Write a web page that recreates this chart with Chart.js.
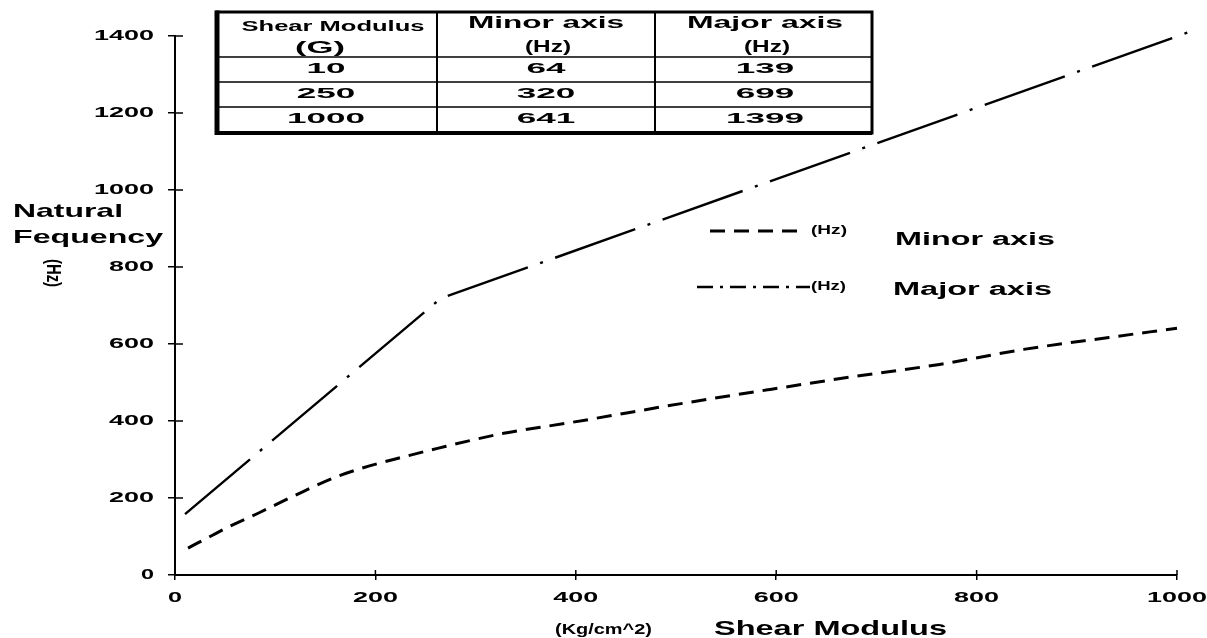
<!DOCTYPE html>
<html><head><meta charset="utf-8">
<script src="https://cdn.jsdelivr.net/npm/chart.js@4"></script>
<style>
html,body{margin:0;padding:0;background:#fff}
#c{display:block}
</style></head>
<body>
<canvas id="c" width="1207" height="638"></canvas>
<script>
// ---- data ----
const minorX  = [13, 35, 55, 85, 120, 162, 195, 230, 262, 328, 395, 507, 594, 679, 763, 847, 932, 1000];
const minorHz = [70, 100, 127, 163, 207, 256, 284, 308, 329, 368, 396, 446, 482, 516, 547, 586, 617, 641];
const majorX  = [10, 265, 1015];
const majorHz = [158, 718, 1413];
const xTicks = [0, 200, 400, 600, 800, 1000];
const yTicks = [0, 200, 400, 600, 800, 1000, 1200, 1400];
// table contents
const tableHead1 = ['Shear Modulus', 'Minor axis', 'Major axis'];
const tableHead2 = ['(G)', '(Hz)', '(Hz)'];
const tableG     = ['10', '250', '1000'];
const tableMinor = ['64', '320', '641'];
const tableMajor = ['139', '699', '1399'];

const FONT = '"Liberation Sans", Arial, sans-serif';
function sText(ctx, str, x, y, px, w, align, bold, base){
  ctx.save();
  ctx.font = (bold === false ? '' : 'bold ') + px + 'px ' + FONT;
  const m = ctx.measureText(str).width;
  const sx = w / m;
  ctx.translate(x, y); ctx.scale(sx, 1);
  ctx.textAlign = align || 'center';
  ctx.textBaseline = base || 'middle';
  ctx.fillStyle = '#000';
  ctx.fillText(str, 0, 0);
  ctx.restore();
}
function seg(ctx, x1, y1, x2, y2, w, dash){
  ctx.save(); ctx.strokeStyle = '#000'; ctx.lineWidth = w; ctx.setLineDash(dash || []);
  ctx.beginPath(); ctx.moveTo(x1, y1); ctx.lineTo(x2, y2); ctx.stroke(); ctx.restore();
}

const overlay = {
  id: 'overlay',
  afterDraw(chart){
    const ctx = chart.ctx;
    const xs = chart.scales.x, ys = chart.scales.y;
    const ax = xs.left, ay = ys.bottom;
    // inner tick marks (crossing ticks) and tick labels
    yTicks.forEach(v => {
      const py = ys.getPixelForValue(v);
      seg(ctx, ax, py, ax + 8, py, 1.5);
      const s = String(v);
      sText(ctx, s, 154, py, 14, s.length === 1 ? 13 : 15 * s.length, 'right');
    });
    xTicks.forEach(v => {
      const px = xs.getPixelForValue(v);
      seg(ctx, px, ay, px, ay - 5, 1.5);
      const s = String(v);
      sText(ctx, s, px, 598, 14, s.length === 1 ? 14 : 15 * s.length, 'center');
    });
    // y axis title
    sText(ctx, 'Natural', 13, 217, 19, 110, 'left', true, 'alphabetic');
    sText(ctx, 'Fequency', 13, 243, 19, 150, 'left', true, 'alphabetic');
    ctx.save();
    ctx.translate(53, 273); ctx.rotate(Math.PI / 2); ctx.scale(1, 1.5);
    ctx.font = 'bold 14px ' + FONT; ctx.textAlign = 'center'; ctx.textBaseline = 'middle';
    ctx.fillStyle = '#000';
    const hw = ctx.measureText('(Hz)').width;
    ctx.scale(28 / hw, 1);
    ctx.fillText('(Hz)', 0, 0);
    ctx.restore();
    // x axis title
    sText(ctx, '(Kg/cm^2)', 555, 630, 14, 97, 'left');
    sText(ctx, 'Shear Modulus', 714, 629, 21, 233, 'left');
    // legend
    seg(ctx, 710, 231, 806, 231, 3, [15, 9]);
    sText(ctx, '(Hz)', 811, 230, 13, 36, 'left');
    sText(ctx, 'Minor axis', 895, 245, 18, 160, 'left', true, 'alphabetic');
    seg(ctx, 697, 287, 810, 287, 2.5, [16, 7, 3, 7]);
    sText(ctx, '(Hz)', 811, 286, 13, 35, 'left');
    sText(ctx, 'Major axis', 893, 295, 18, 159, 'left', true, 'alphabetic');
    // table
    const L = 217, R = 872, T = 12, B = 133;
    const cols = [L, 437, 655, R];
    const rows = [57, 82, 107];
    seg(ctx, cols[1], T, cols[1], B, 2);
    seg(ctx, cols[2], T, cols[2], B, 2);
    rows.forEach(r => seg(ctx, L, r, R, r, 1.6));
    ctx.save(); ctx.strokeStyle = '#000';
    ctx.lineWidth = 3; ctx.strokeRect(L, T, R - L, B - T);
    ctx.restore();
    seg(ctx, L, T - 1.5, L, B + 2, 5);
    seg(ctx, L, B, R, B, 4);
    const cx = [326, 546, 765];
    sText(ctx, tableHead1[0], cx[0] + 7, 27, 14, 183, 'center');
    sText(ctx, tableHead1[1], cx[1], 24, 16, 156, 'center');
    sText(ctx, tableHead1[2], cx[2], 24, 16, 156, 'center');
    sText(ctx, tableHead2[0], cx[0] - 6, 48, 17, 50, 'center');
    sText(ctx, tableHead2[1], cx[1] + 2, 47, 17, 46, 'center');
    sText(ctx, tableHead2[2], cx[2] + 2, 47, 17, 46, 'center');
    const rowY = [69, 94, 119];
    [tableG, tableMinor, tableMajor].forEach((col, ci) => {
      col.forEach((s, ri) => sText(ctx, s, cx[ci], rowY[ri], 15, 19.5 * s.length, 'center'));
    });
  }
};

new Chart(document.getElementById('c').getContext('2d'), {
  type: 'line',
  data: {
    datasets: [
      { label: 'Minor axis', data: minorX.map((x, i) => ({ x, y: minorHz[i] })),
        borderColor: '#000', borderWidth: 3, borderDash: [15, 9], pointRadius: 0,
        cubicInterpolationMode: 'monotone', fill: false, clip: false },
      { label: 'Major axis', data: majorX.map((x, i) => ({ x, y: majorHz[i] })),
        borderColor: '#000', borderWidth: 2.4, borderDash: [85, 13, 3, 13], pointRadius: 0,
        tension: 0, fill: false, clip: false }
    ]
  },
  options: {
    responsive: false, animation: false, devicePixelRatio: 1,
    layout: { padding: { left: 0, right: 30, top: 36, bottom: 0 } },
    plugins: { legend: { display: false }, tooltip: { enabled: false }, title: { display: false } },
    scales: {
      x: {
        type: 'linear', min: 0, max: 1000,
        afterBuildTicks: s => { s.ticks = xTicks.map(v => ({ value: v })); },
        ticks: { display: false },
        grid: { drawOnChartArea: false, drawTicks: true, tickLength: 5, color: '#000', lineWidth: 1.5 },
        border: { display: true, color: '#000', width: 2 },
        afterFit: s => { s.height = 63; }
      },
      y: {
        type: 'linear', min: 0, max: 1400,
        afterBuildTicks: s => { s.ticks = yTicks.map(v => ({ value: v })); },
        ticks: { display: false },
        grid: { drawOnChartArea: false, drawTicks: true, tickLength: 7, color: '#000', lineWidth: 1.5 },
        border: { display: true, color: '#000', width: 2 },
        afterFit: s => { s.width = 175; }
      }
    }
  },
  plugins: [overlay]
});
</script>
</body></html>
